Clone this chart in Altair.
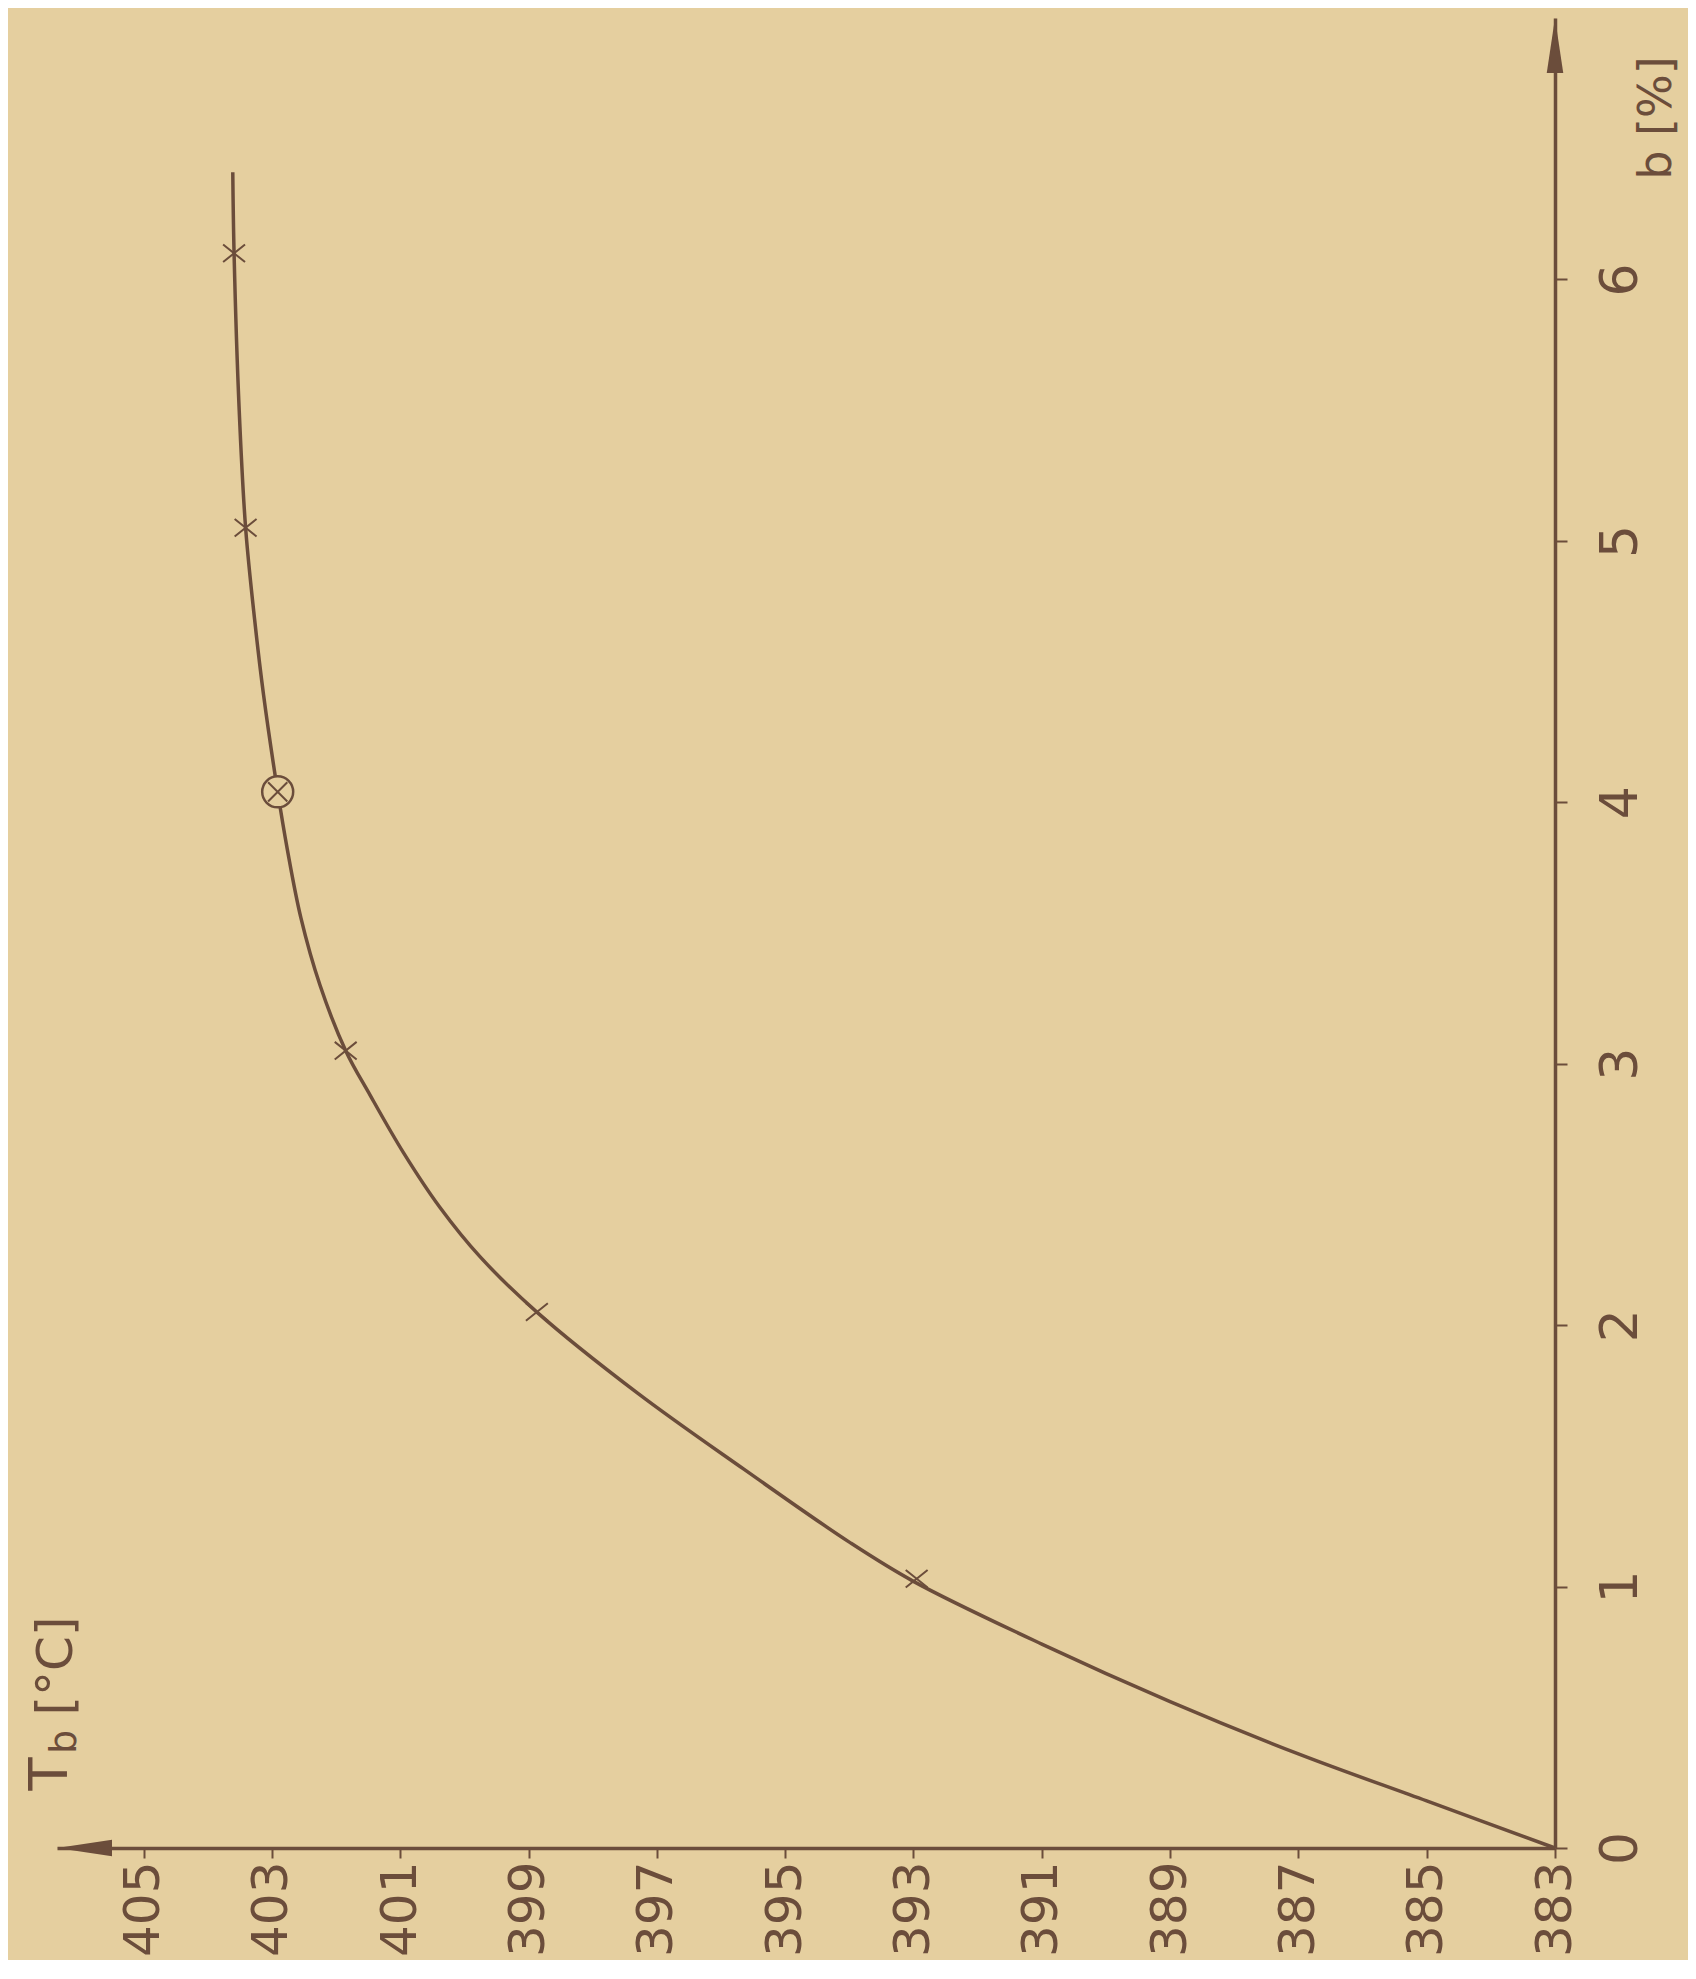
import altair as alt
import pandas as pd

# ---- data ----
curve_b = [0.0, 0.18, 0.36, 0.56, 0.78, 1.02, 1.17, 1.45, 1.74, 2.05, 2.26,
           2.45, 2.66, 2.88, 3.05, 3.30, 3.56, 3.82, 4.04, 4.41, 4.70, 5.05, 5.50,
           6.10, 6.41]
curve_T = [383.0, 385.0, 387.0, 389.0, 391.0, 393.0, 394.0, 395.65, 397.3,
           398.87, 399.75, 400.38, 400.95, 401.47, 401.85, 402.25, 402.55, 402.76,
           402.91, 403.13, 403.27, 403.41, 403.51, 403.59, 403.61]

cross_b = [1.03, 2.05, 3.05, 5.05, 6.10]
cross_T = [392.95, 398.87, 401.85, 403.41, 403.59]

circle_b = [4.04]
circle_T = [402.91]

T_ticks = [383, 385, 387, 389, 391, 393, 395, 397, 399, 401, 403, 405]
b_ticks = [0, 1, 2, 3, 4, 5, 6]

BG = "#e5cf9f"
INK = "#6b4d3b"
FONT = "DejaVu Sans"
W, H = 1498, 1830

curve_df = pd.DataFrame({"b": curve_b, "T": curve_T})
cross_df = pd.DataFrame({"b": cross_b, "T": cross_T})
circle_df = pd.DataFrame({"b": circle_b, "T": circle_T})

xscale = alt.Scale(domain=[383, 406.35], reverse=True, nice=False, zero=False)
yscale = alt.Scale(domain=[0, 7.0], nice=False, zero=False)

xaxis = alt.Axis(values=T_ticks, format="d", orient="bottom", title=None, grid=False,
                 labelAngle=270, labelAlign="right", labelBaseline="middle",
                 labelFontSize=50, labelFont=FONT, labelColor=INK,
                 labelPadding=3, tickSize=10, tickWidth=2, tickColor=INK,
                 domainColor=INK, domainWidth=3.5, labelOverlap=False, labelFlush=False)
yaxis = alt.Axis(values=b_ticks, format="d", orient="right", title=None, grid=False,
                 labelAngle=270, labelAlign="center", labelBaseline="top",
                 labelFontSize=52, labelFont=FONT, labelColor=INK,
                 labelPadding=28, tickSize=12, tickWidth=2, tickColor=INK,
                 domainColor=INK, domainWidth=3.5, labelOverlap=False, labelFlush=False)

curve = alt.Chart(curve_df).mark_line(color=INK, strokeWidth=3.5, interpolate="catmull-rom").encode(
    x=alt.X("T:Q", scale=xscale, axis=xaxis),
    y=alt.Y("b:Q", scale=yscale, axis=yaxis),
    order="b:Q",
)

crosses = alt.Chart(cross_df).mark_point(
    shape="M-1,-0.8L1,0.8M-1,0.8L1,-0.8", size=480, filled=False,
    stroke=INK, strokeWidth=2, opacity=1
).encode(x=alt.X("T:Q", scale=xscale), y=alt.Y("b:Q", scale=yscale))

circle = alt.Chart(circle_df).mark_point(
    shape="circle", size=961, filled=True, fill=BG, stroke=INK,
    strokeWidth=2.5, opacity=1, fillOpacity=1
).encode(x=alt.X("T:Q", scale=xscale), y=alt.Y("b:Q", scale=yscale))

circle_x = alt.Chart(circle_df).mark_point(
    shape="M-0.62,-0.62L0.62,0.62M-0.62,0.62L0.62,-0.62", size=961, filled=False,
    stroke=INK, strokeWidth=2, opacity=1
).encode(x=alt.X("T:Q", scale=xscale), y=alt.Y("b:Q", scale=yscale))

arrow_df = pd.DataFrame({"k": [0]})
arrow_left = alt.Chart(arrow_df).mark_point(
    shape="M0,0L2,-0.3L2,0.3Z", size=3025, filled=True, fill=INK, strokeWidth=0, opacity=1
).encode(x=alt.value(0), y=alt.value(H))
arrow_up = alt.Chart(arrow_df).mark_point(
    shape="M0,0L-0.3,2L0.3,2Z", size=3025, filled=True, fill=INK, strokeWidth=0, opacity=1
).encode(x=alt.value(W), y=alt.value(0))

def label(text, x, y, size):
    return alt.Chart(arrow_df).mark_text(
        text=text, angle=270, font=FONT, fontSize=size, color=INK,
        align="center", baseline="middle"
    ).encode(x=alt.value(x), y=alt.value(y))

t_T = label("T", -6, 1756, 54)
t_b = label("b", 8, 1724, 38)
t_C = label("[°C]", 0, 1648, 50)
b_title = label("b [%]", W + 102, 100, 46)

chart = alt.layer(curve, crosses, circle, circle_x, arrow_left, arrow_up,
                  t_T, t_b, t_C, b_title).properties(
    width=W, height=H, background=BG,
    padding={"left": 49, "top": 10, "right": 133, "bottom": 112},
    autosize=alt.AutoSizeParams(type="none"),
).configure_view(stroke=None)

chart.save("out.html", embed_options={"renderer": "svg", "actions": False})
